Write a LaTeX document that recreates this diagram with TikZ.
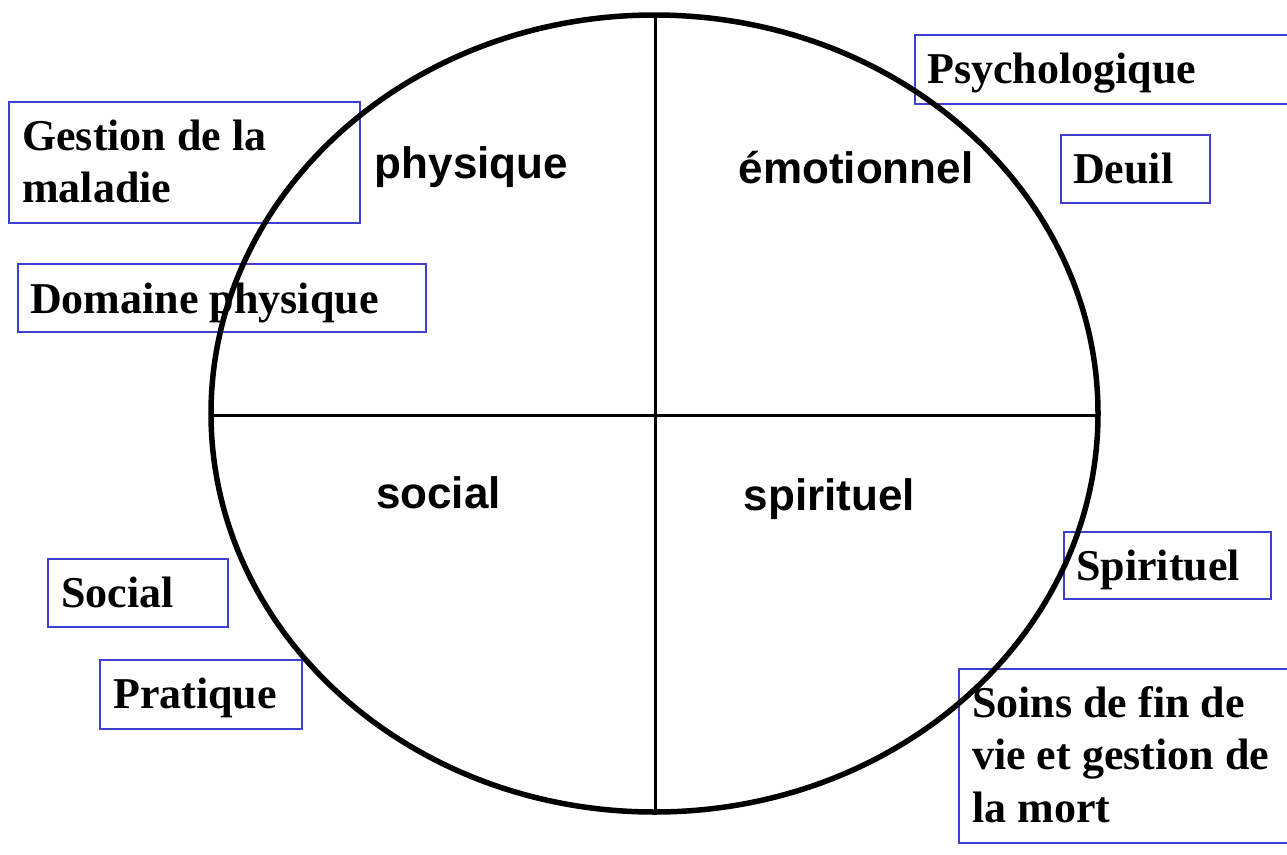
\documentclass[tikz,border=0pt]{standalone}
\usepackage{fontspec}
\setmainfont{Liberation Serif}
\newfontfamily\arialf{Liberation Sans}
\definecolor{boxblue}{RGB}{64,64,208}
\begin{document}
\begin{tikzpicture}[x=1pt,y=-1pt,
  boxrect/.style={draw=boxblue, line width=1.6pt, anchor=north west, inner sep=0pt},
  boxtext/.style={anchor=base west, inner sep=0pt, align=left, font=\fontsize{44}{52.8}\selectfont\bfseries},
  quad/.style={anchor=base, inner sep=0pt, font=\arialf\fontsize{44}{53}\selectfont\bfseries},
  divider/.style={line width=3pt},
  ]
\useasboundingbox (0,0) rectangle (1287,854);

% boxes
\node[boxrect, minimum width=351pt, minimum height=121pt] (gestion) at (8,101) {};
\node[boxrect, minimum width=408pt, minimum height=68pt] (domaine) at (17,263) {};
\node[boxrect, minimum width=380pt, minimum height=69pt] (psycho) at (914,34) {};
\node[boxrect, minimum width=149pt, minimum height=68pt] (deuil) at (1060,134) {};
\node[boxrect, minimum width=180pt, minimum height=68pt] (socialb) at (47,558) {};
\node[boxrect, minimum width=202pt, minimum height=69pt] (pratique) at (99,659) {};
\node[boxrect, minimum width=207pt, minimum height=67pt] (spirit) at (1063,531) {};
\node[boxrect, minimum width=340pt, minimum height=174pt] (soins) at (958,668) {};

% texts (base anchor of a multi-line node is its last line)
\node[boxtext] (gestiont) at ([shift={(14pt,-101.8pt)}]gestion.north west) {Gestion de la\\maladie};
\node[boxtext] (domainet) at ([shift={(13pt,-50pt)}]domaine.north west) {Domaine physique};
\node[boxtext] (psychot) at ([shift={(13pt,-49pt)}]psycho.north west) {Psychologique};
\node[boxtext] (deuilt) at ([shift={(13pt,-49pt)}]deuil.north west) {Deuil};
\node[boxtext] (socialt) at ([shift={(14pt,-49pt)}]socialb.north west) {Social};
\node[boxtext] (pratiquet) at ([shift={(14pt,-49pt)}]pratique.north west) {Pratique};
\node[boxtext] (spiritt) at ([shift={(13pt,-49pt)}]spirit.north west) {Spirituel};
\node[boxtext] (soinst) at ([shift={(14pt,-154.6pt)}]soins.north west) {Soins de fin de\\vie et gestion de\\la mort};

% circle and dividers
\coordinate (c) at (654.5,413.5);
\coordinate (vt) at (655,17);
\coordinate (vb) at (655,810);
\coordinate (hl) at (213,415);
\coordinate (hr) at (1096,415);
\draw[line width=5.5pt] (c) ellipse [x radius=443.5, y radius=398.5];
\draw[divider] (vt) -- (vb);
\draw[divider] (hl) -- (hr);

% quadrant labels
\node[quad] (q1) at (471.5,178) {physique};
\node[quad] (q2) at (856,183) {émotionnel};
\node[quad] (q3) at (438.5,508) {social};
\node[quad] (q4) at (829.5,510) {spirituel};
\end{tikzpicture}
\end{document}
